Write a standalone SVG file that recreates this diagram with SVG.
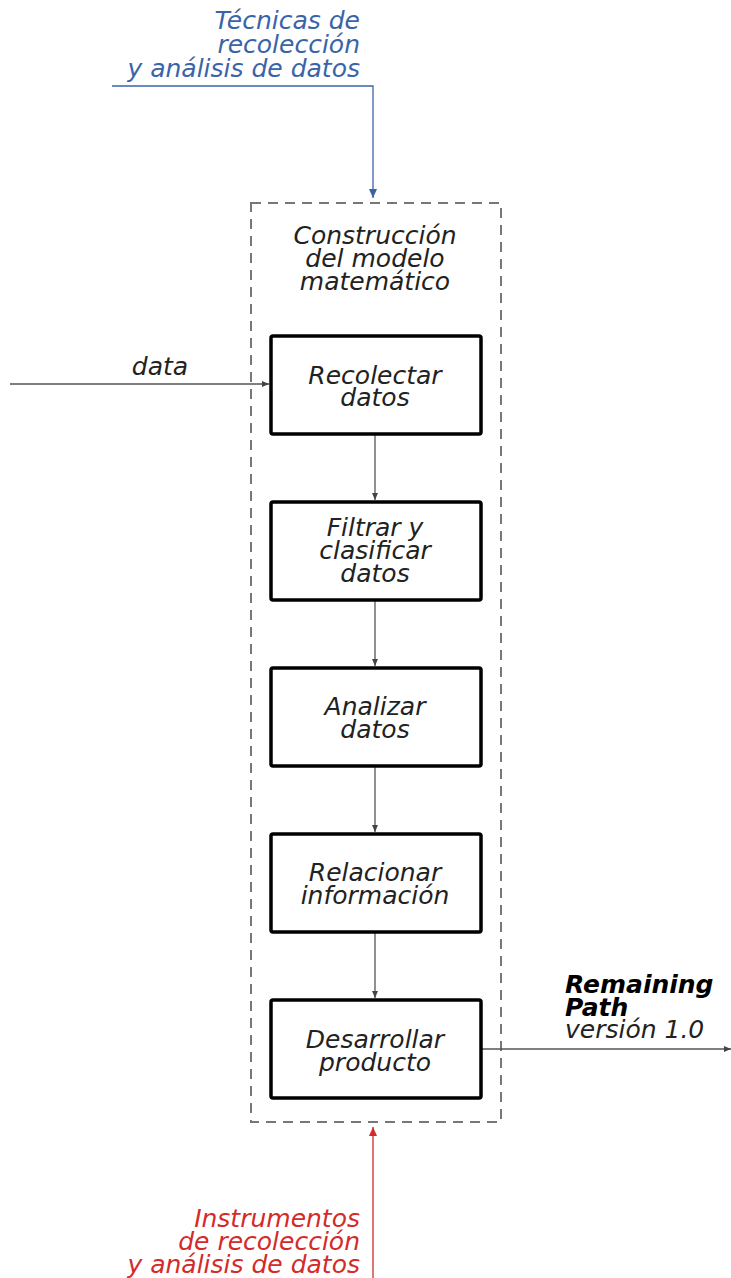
<svg xmlns="http://www.w3.org/2000/svg" width="731" height="1278" viewBox="0 0 731 1278">
<defs>
<style>
text{font-family:"DejaVu Sans",Verdana,sans-serif;font-style:italic;font-size:25px;fill:#222}
.c{text-anchor:middle}
.r{text-anchor:end}
.blue{fill:#3a64a8}
.red{fill:#d42a2a}
.b{font-weight:bold;fill:#000}
.box{fill:#fff;stroke:#000;stroke-width:3.5}
.ln{fill:none;stroke:#555;stroke-width:1.3}
</style>
<marker id="ah" markerWidth="8" markerHeight="8" refX="7" refY="4" orient="auto" markerUnits="userSpaceOnUse"><path d="M0,1 L7,4 L0,7 z" fill="#444"/></marker>
<marker id="ahb" markerWidth="10" markerHeight="10" refX="9" refY="5" orient="auto" markerUnits="userSpaceOnUse"><path d="M0,1 L9,5 L0,9 z" fill="#3a64a8"/></marker>
<marker id="ahr" markerWidth="10" markerHeight="10" refX="9" refY="5" orient="auto" markerUnits="userSpaceOnUse"><path d="M0,1 L9,5 L0,9 z" fill="#d42a2a"/></marker>
</defs>
<g id="container">
<rect x="251" y="203" width="250" height="919" fill="none" stroke="#777" stroke-width="2" stroke-dasharray="10,7"/>
<text class="c" x="375" y="244">Construcción</text>
<text class="c" x="375" y="267">del modelo</text>
<text class="c" x="375" y="290">matemático</text>
</g>
<g id="connectors">
<path class="ln" d="M10,384 H269" marker-end="url(#ah)"/>
<path class="ln" d="M375,434 V500" marker-end="url(#ah)"/>
<path class="ln" d="M375,600 V666" marker-end="url(#ah)"/>
<path class="ln" d="M375,766 V832" marker-end="url(#ah)"/>
<path class="ln" d="M375,932 V998" marker-end="url(#ah)"/>
<path class="ln" d="M481,1049 H731" marker-end="url(#ah)"/>
<path d="M112,86 H373 V198" fill="none" stroke="#3a64a8" stroke-width="1.3" marker-end="url(#ahb)"/>
<path d="M373,1278 V1127" fill="none" stroke="#d42a2a" stroke-width="1.3" marker-end="url(#ahr)"/>
</g>
<g id="input-label"><text class="c" x="160" y="375">data</text></g>
<g id="control-label">
<text class="r blue" x="360" y="29">Técnicas de</text>
<text class="r blue" x="360" y="53">recolección</text>
<text class="r blue" x="360" y="77">y análisis de datos</text>
</g>
<g id="mechanism-label">
<text class="r red" x="360" y="1227">Instrumentos</text>
<text class="r red" x="360" y="1250">de recolección</text>
<text class="r red" x="360" y="1273">y análisis de datos</text>
</g>
<g id="output-label">
<text class="b" x="565" y="993">Remaining</text>
<text class="b" x="565" y="1016">Path</text>
<text x="565" y="1038">versión 1.0</text>
</g>
<g id="n1"><rect class="box" x="271" y="336" width="210" height="98" rx="2"/>
<text class="c" x="375" y="384">Recolectar</text><text class="c" x="375" y="406">datos</text></g>
<g id="n2"><rect class="box" x="271" y="502" width="210" height="98" rx="2"/>
<text class="c" x="375" y="536">Filtrar y</text><text class="c" x="375" y="559">clasificar</text><text class="c" x="375" y="582">datos</text></g>
<g id="n3"><rect class="box" x="271" y="668" width="210" height="98" rx="2"/>
<text class="c" x="375" y="715">Analizar</text><text class="c" x="375" y="738">datos</text></g>
<g id="n4"><rect class="box" x="271" y="834" width="210" height="98" rx="2"/>
<text class="c" x="375" y="881">Relacionar</text><text class="c" x="375" y="904">información</text></g>
<g id="n5"><rect class="box" x="271" y="1000" width="210" height="98" rx="2"/>
<text class="c" x="375" y="1048">Desarrollar</text><text class="c" x="375" y="1071">producto</text></g>
</svg>
